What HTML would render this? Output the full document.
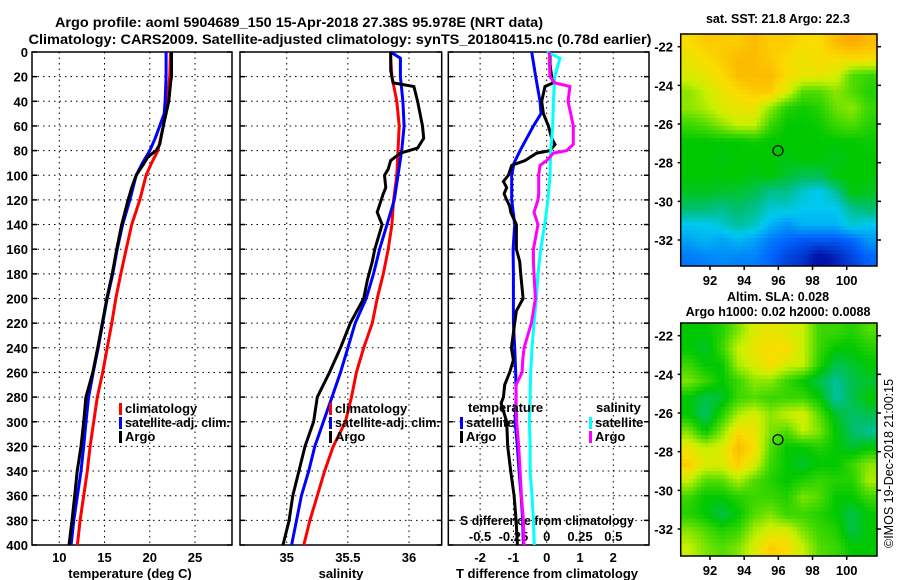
<!DOCTYPE html>
<html><head><meta charset="utf-8"><style>
html,body{margin:0;padding:0;background:#fff;}
svg{display:block;font-family:"Liberation Sans",sans-serif;font-weight:bold;}
</style></head><body>
<svg id="chart" width="900" height="580" viewBox="0 0 900 580" xmlns="http://www.w3.org/2000/svg">
<text x="299" y="27" font-size="14" text-anchor="middle" textLength="488" lengthAdjust="spacingAndGlyphs">Argo profile: aoml 5904689_150 15-Apr-2018 27.38S 95.978E (NRT data)</text>
<text x="340" y="44" font-size="14" text-anchor="middle" textLength="623" lengthAdjust="spacingAndGlyphs">Climatology: CARS2009. Satellite-adjusted climatology: synTS_20180415.nc (0.78d earlier)</text>
<text x="778" y="23" font-size="12.5" text-anchor="middle">sat. SST: 21.8 Argo: 22.3</text>
<text x="778" y="301" font-size="12.5" text-anchor="middle">Altim. SLA: 0.028</text>
<text x="778" y="316" font-size="12.5" text-anchor="middle">Argo h1000: 0.02 h2000: 0.0088</text>
<text transform="translate(893,548) rotate(-90)" font-size="12.5" font-weight="normal">©IMOS 19-Dec-2018 21:00:15</text>
<g id="plots"></g>
</svg>
<script>
// ---- data (depth in m) ----
const tDepth = [0,20,40,50,60,70,80,90,100,120,140,160,180,200,220,240,260,280,300,320,340,360,380,400];
const tClim  = [22.3,22.2,21.9,21.7,21.5,21.2,20.9,20.2,19.6,18.9,18.0,17.4,16.8,16.25,15.8,15.3,14.8,14.2,13.8,13.4,13.1,12.7,12.3,12.0];
const tSat   = [21.8,21.8,21.7,21.6,21.1,20.6,20.0,19.2,18.5,17.8,17.0,16.4,15.9,15.3,14.8,14.3,13.75,13.24,12.95,12.7,12.4,12.0,11.6,11.3];
const tArgoD = [0,20,25,40,60,75,80,85,90,100,110,120,140,160,180,200,220,240,260,280,300,320,340,360,380,400];
const tArgo  = [22.4,22.4,22.3,22.1,21.5,21.1,20.7,19.8,19.4,18.5,18.0,17.6,16.9,16.35,15.85,15.25,14.75,14.25,13.7,12.94,12.7,12.4,11.98,11.7,11.4,11.07];
const sDepth = [0,5,20,40,60,80,100,120,140,160,180,200,220,240,260,280,300,320,340,360,380,400];
const sClim  = [35.85,35.85,35.86,35.90,35.92,35.91,35.9,35.874,35.86,35.83,35.79,35.74,35.70,35.63,35.57,35.53,35.48,35.38,35.31,35.25,35.19,35.14];
const sSat   = [35.85,35.93,35.93,35.95,35.96,35.94,35.91,35.88,35.82,35.76,35.71,35.65,35.56,35.50,35.44,35.37,35.30,35.23,35.18,35.12,35.08,35.04];
const sArgoD = [0,15,25,28,40,60,70,78,82,88,95,100,110,115,130,140,160,170,185,200,220,240,260,280,300,320,340,360,380,400];
const sArgo  = [35.85,35.85,35.87,36.04,36.07,36.11,36.12,36.07,35.93,35.85,35.83,35.80,35.81,35.79,35.74,35.78,35.72,35.70,35.66,35.63,35.52,35.44,35.35,35.25,35.22,35.15,35.10,35.05,35.02,34.97];
const dDepth = [0,10,20,25,28,40,50,60,70,75,80,82,88,92,100,105,110,115,120,125,130,140,160,170,180,200,210,220,240,250,260,270,280,285,300,320,340,360,380,400];
const dTArgo = [0.1,0.1,0.15,0.2,-0.05,-0.15,-0.1,0.05,0.15,0.25,0.1,-0.3,-0.65,-1.05,-1.15,-1.3,-1.2,-1.28,-1.2,-1.11,-1.08,-0.91,-0.91,-0.81,-0.78,-0.71,-0.91,-0.96,-1.06,-1.0,-1.11,-1.26,-1.3,-1.37,-1.2,-1.17,-1.08,-0.98,-0.92,-0.88];
const dSArgo = [0.02,0.02,0.025,0.06,0.175,0.16,0.18,0.2,0.2,0.2,0.15,0.05,0,-0.05,-0.06,-0.06,-0.06,-0.06,-0.065,-0.08,-0.095,-0.065,-0.1,-0.1,-0.095,-0.085,-0.1,-0.115,-0.17,-0.18,-0.185,-0.23,-0.23,-0.23,-0.225,-0.21,-0.2,-0.19,-0.175,-0.17];
const sdDepth = [0,20,40,50,60,70,80,90,100,120,140,160,180,200,220,240,260,280,300,320,340,360,380,400];
const dTSat  = [-0.45,-0.33,-0.2,-0.17,-0.4,-0.6,-0.8,-0.98,-1.05,-1.05,-0.96,-1.01,-1.0,-1.0,-1.0,-0.96,-0.93,-0.92,-0.95,-0.88,-0.83,-0.77,-0.72,-0.7];
const cDepth = [0,5,20,40,60,80,100,120,140,160,180,200,220,240,260,280,300,320,340,360,380,400];
const dSSat  = [0,0.1,0.06,0.05,0.045,0.03,0.025,0.01,-0.015,-0.045,-0.065,-0.078,-0.095,-0.11,-0.12,-0.125,-0.13,-0.125,-0.125,-0.11,-0.1,-0.093];
const depthTicks = [0,20,40,60,80,100,120,140,160,180,200,220,240,260,280,300,320,340,360,380,400];
const tTicks = [10,15,20,25];
const sTicks = [35,35.5,36];
const dTTicks = [-2,-1,0,1,2];
const dSTickLabels = ["-0.5","-0.25","0","0.25","0.5"];
const dSTicks = [-0.5,-0.25,0,0.25,0.5];
const lonTicks = [92,94,96,98,100];
const latTicks = [-22,-24,-26,-28,-30,-32];
const argoLon = 95.978, argoLat = -27.38;
// map fields (0..1 colour index), 12 cols x 14 rows
const sstField = [
[.76,.78,.78,.78,.8,.78,.78,.76,.76,.8,.82,.8],
[.74,.76,.78,.8,.8,.78,.76,.74,.76,.76,.76,.76],
[.72,.74,.76,.8,.8,.8,.76,.74,.74,.72,.62,.6],
[.66,.7,.74,.76,.78,.78,.72,.62,.62,.66,.62,.58],
[.66,.68,.72,.74,.74,.66,.58,.56,.58,.64,.66,.6],
[.6,.62,.66,.7,.7,.6,.55,.55,.56,.6,.62,.58],
[.55,.55,.55,.55,.56,.55,.55,.55,.55,.55,.55,.56],
[.55,.55,.54,.55,.55,.55,.54,.55,.55,.53,.55,.55],
[.55,.55,.55,.55,.54,.55,.52,.5,.5,.55,.55,.55],
[.53,.53,.52,.52,.5,.46,.46,.42,.4,.45,.55,.53],
[.48,.48,.46,.48,.46,.42,.42,.4,.4,.4,.46,.48],
[.4,.4,.42,.45,.43,.38,.35,.38,.38,.38,.42,.4],
[.36,.38,.36,.38,.36,.32,.3,.28,.28,.28,.3,.35],
[.32,.33,.34,.33,.33,.3,.26,.24,.18,.22,.26,.3]];
const slaField = [
[.55,.55,.58,.65,.72,.74,.72,.7,.6,.6,.58,.62],
[.55,.52,.6,.7,.74,.76,.76,.7,.6,.55,.55,.58],
[.6,.55,.55,.68,.72,.76,.72,.7,.58,.5,.52,.55],
[.65,.6,.55,.6,.66,.66,.6,.55,.5,.45,.5,.52],
[.55,.5,.52,.6,.62,.6,.6,.6,.55,.44,.5,.55],
[.55,.48,.58,.68,.72,.66,.7,.72,.62,.52,.48,.5],
[.65,.55,.65,.76,.74,.65,.62,.7,.65,.55,.48,.45],
[.74,.7,.72,.8,.76,.62,.55,.55,.58,.55,.52,.55],
[.78,.72,.72,.78,.72,.6,.55,.52,.55,.55,.6,.66],
[.7,.62,.62,.68,.62,.58,.55,.58,.6,.58,.58,.68],
[.6,.55,.55,.58,.6,.6,.58,.65,.62,.55,.55,.6],
[.58,.55,.5,.55,.62,.65,.6,.6,.58,.55,.5,.55],
[.66,.62,.58,.6,.68,.72,.72,.65,.6,.58,.5,.55],
[.7,.65,.62,.65,.72,.78,.76,.7,.62,.6,.55,.55]];

const NS="http://www.w3.org/2000/svg";
const root=document.getElementById('plots');
function mk(tag,attrs,parent){const e=document.createElementNS(NS,tag);for(const k in attrs)e.setAttribute(k,attrs[k]);(parent||root).appendChild(e);return e;}
const Y0=52,Y1=545;
const yD=d=>Y0+(Y1-Y0)*d/400;
function lin(d0,d1,r0,r1){return v=>r0+(v-d0)*(r1-r0)/(d1-d0);}
const panels=[
 {x0:32,x1:232,sx:lin(10,25,59.3,195),name:'temperature-panel'},
 {x0:240,x1:441.7,sx:lin(35,36,286.7,409),name:'salinity-panel'},
 {x0:448.3,x1:649,sx:lin(0,2,546.7,613.3),name:'difference-panel'}];
const sxS=lin(0,0.5,546.7,613.3);

function frame(p,vt){
  const g=mk('g',{});
  
  
  depthTicks.forEach(d=>{
    const l=mk('line',{x1:p.x0,x2:p.x1,y1:yD(d),y2:yD(d),stroke:'#000','stroke-width':1,'stroke-dasharray':'1.5,4'},g);
    
    
    mk('line',{x1:p.x0,x2:p.x0+5,y1:yD(d),y2:yD(d),stroke:'#000','stroke-width':1.5},g);
    mk('line',{x1:p.x1-5,x2:p.x1,y1:yD(d),y2:yD(d),stroke:'#000','stroke-width':1.5},g);
  });
  vt.forEach(v=>{
    const l=mk('line',{x1:p.sx(v),x2:p.sx(v),y1:Y0,y2:Y1,stroke:'#000','stroke-width':1,'stroke-dasharray':'1.5,4'},g);
    
    
  });
  const r=mk('rect',{x:p.x0,y:Y0,width:p.x1-p.x0,height:Y1-Y0,fill:'none',stroke:'#000','stroke-width':1.5},g);
  
  
  return g;
}
function line(ds,vs,sx,color,name){
  const pts=ds.map((d,i)=>sx(vs[i]).toFixed(1)+','+yD(d).toFixed(1)).join(' ');
  const pl=mk('polyline',{points:pts,fill:'none',stroke:color,'stroke-width':3,'stroke-linejoin':'miter'});
  
  
}
function text(x,y,s,name,anchor,size,fill){
  const t=mk('text',{x:x,y:y,'font-size':size||13,'text-anchor':anchor||'start',fill:fill||'#000'});
  t.textContent=s;
  
  
  return t;
}
function legend(x,y,color,label,len){
  const r=mk('rect',{x:x,y:y-10,width:3,height:12,fill:color});
  
  
  const t=text(x+6,y,label,'legend-entry');
  if(len){t.setAttribute('textLength',len);t.setAttribute('lengthAdjust','spacingAndGlyphs');}
}
frame(panels[0],tTicks);
frame(panels[1],sTicks);
frame(panels[2],dTTicks);
depthTicks.forEach(d=>text(28,yD(d)+5,String(d),'y-tick-label','end'));
tTicks.forEach(v=>text(panels[0].sx(v),562,String(v),'x-tick-label','middle'));
sTicks.forEach(v=>text(panels[1].sx(v),562,String(v),'x-tick-label','middle'));
dTTicks.forEach(v=>text(panels[2].sx(v),562,String(v),'x-tick-label','middle'));
dSTicks.forEach((v,i)=>text(sxS(v),541,dSTickLabels[i],'s-diff-tick-label','middle'));
text(130,578,'temperature (deg C)','x-axis-title','middle');
text(341,578,'salinity','x-axis-title','middle');
text(547,578,'T difference from climatology','x-axis-title','middle');
const sdt=text(547,525,'S difference from climatology','s-diff-axis-title','middle');
sdt.setAttribute('textLength',174);
sdt.setAttribute('lengthAdjust','spacingAndGlyphs');

line(tDepth,tClim,panels[0].sx,'#ff0000','temperature-climatology-line');
line(tDepth,tSat,panels[0].sx,'#0000ff','temperature-satellite-line');
line(tArgoD,tArgo,panels[0].sx,'#000000','temperature-argo-line');
line(sDepth,sClim,panels[1].sx,'#ff0000','salinity-climatology-line');
line(sDepth,sSat,panels[1].sx,'#0000ff','salinity-satellite-line');
line(sArgoD,sArgo,panels[1].sx,'#000000','salinity-argo-line');
line(sdDepth,dTSat,panels[2].sx,'#0000ff','t-diff-satellite-line');
line(dDepth,dTArgo,panels[2].sx,'#000000','t-diff-argo-line');
line(cDepth,dSSat,sxS,'#00ffff','s-diff-satellite-line');
line(dDepth,dSArgo,sxS,'#ff00ff','s-diff-argo-line');

legend(119,413,'#ff0000','climatology');
legend(119,427,'#0000ff','satellite-adj. clim.',105);
legend(119,441,'#000000','Argo');
legend(329,413,'#ff0000','climatology');
legend(329,427,'#0000ff','satellite-adj. clim.',105);
legend(329,441,'#000000','Argo');
text(468,412,'temperature','legend-title');
legend(460,427,'#0000ff','satellite');
legend(460,441,'#000000','Argo');
text(596,412,'salinity','legend-title');
legend(589,427,'#00ffff','satellite');
legend(589,441,'#ff00ff','Argo');

// colour map
const stops=[[0,[0,0,140]],[.2,[0,20,170]],[.3,[0,100,255]],[.4,[0,200,240]],[.47,[0,190,120]],[.55,[0,200,0]],[.62,[80,220,0]],[.7,[200,240,0]],[.76,[250,220,0]],[.82,[255,170,0]],[.9,[240,110,0]],[1,[200,40,0]]];
function cmap(v){for(let i=1;i<stops.length;i++){if(v<=stops[i][0]){const a=stops[i-1],b=stops[i],t=(v-a[0])/(b[0]-a[0]);return 'rgb('+a[1].map((c,k)=>Math.round(c+(b[1][k]-c)*t)).join(',')+')';}}return 'rgb(200,40,0)';}
function sample(f,u,v){
  const R=f.length,C=f[0].length;
  u=Math.max(0,Math.min(C-1,u));v=Math.max(0,Math.min(R-1,v));
  const i=Math.min(Math.floor(v),R-2),j=Math.min(Math.floor(u),C-2),a=v-i,b=u-j;
  return f[i][j]*(1-a)*(1-b)+f[i][j+1]*(1-a)*b+f[i+1][j]*a*(1-b)+f[i+1][j+1]*a*b;
}
function drawMap(mx0,my0,mx1,my1,field,name,px){
  const g=mk('g',{});
  
  
  const W=mx1-mx0,H=my1-my0,C=field[0].length,R=field.length;
  for(let y=my0;y<my1;y+=px){for(let x=mx0;x<mx1;x+=px){
    const u=(x+px/2-mx0)/W*C-0.5,v=(y+px/2-my0)/H*R-0.5;
    mk('rect',{x:x,y:y,width:Math.min(px,mx1-x)+0.3,height:Math.min(px,my1-y)+0.3,fill:cmap(sample(field,u,v))},g);
  }}
  const lonX=lin(92,100,710,846.7),latY=lin(-22,-32,my0+12.7,my0+206);
  const f=mk('rect',{x:mx0,y:my0,width:W,height:H,fill:'none',stroke:'#000','stroke-width':1.5},g);
  
  
  lonTicks.forEach(l=>{mk('line',{x1:lonX(l),x2:lonX(l),y1:my1,y2:my1+4,stroke:'#000','stroke-width':1.5},g);text(lonX(l),my1+19,String(l),'lon-tick-label','middle');});
  latTicks.forEach(l=>{mk('line',{x1:mx1,x2:mx1+4,y1:latY(l),y2:latY(l),stroke:'#000','stroke-width':1.5},g);mk('line',{x1:mx0-3,x2:mx0,y1:latY(l),y2:latY(l),stroke:'#000','stroke-width':1.5},g);text(673,latY(l)+5,String(l),'lat-tick-label','end');});
  const c=mk('circle',{cx:lonX(argoLon),cy:latY(argoLat),r:5,fill:'none',stroke:'#000','stroke-width':1.2},g);
  
  
}
drawMap(680.7,34,877,266,sstField,'sst-map',4);
drawMap(680.7,323,877,556,slaField,'sla-map',4);
</script>
</body></html>
